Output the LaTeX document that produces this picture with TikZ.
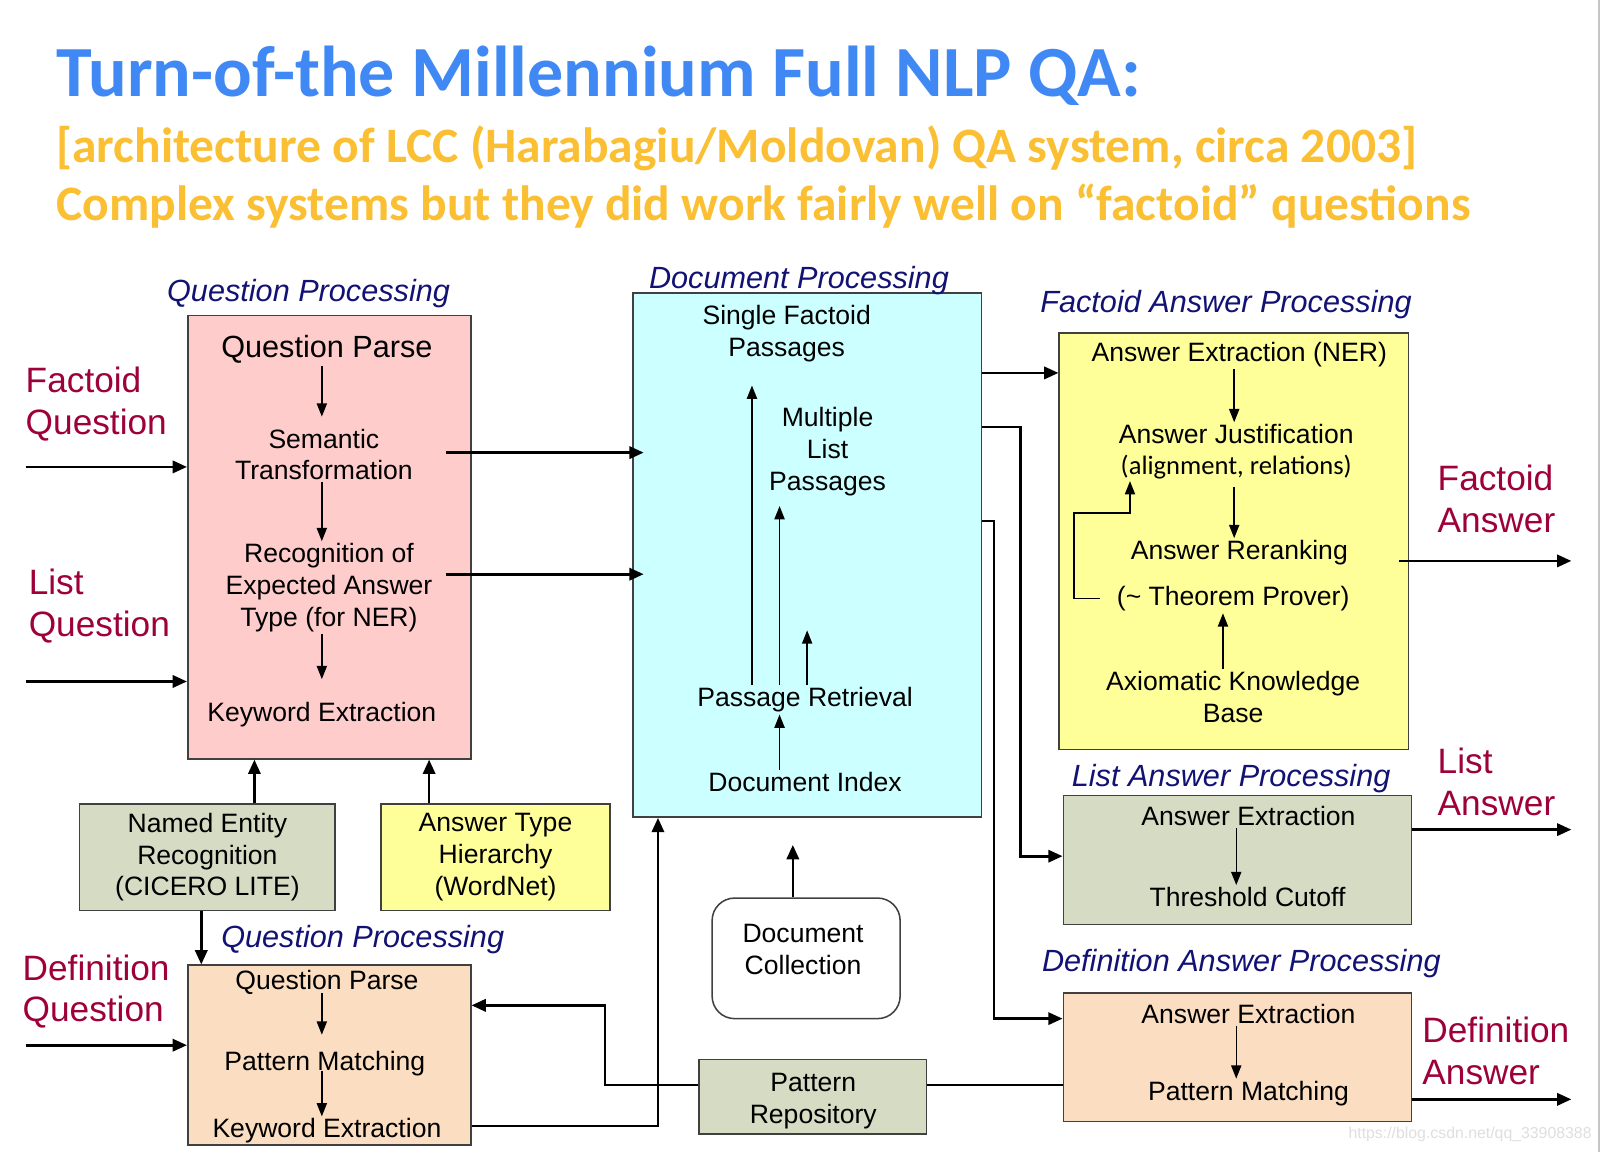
\documentclass[tikz,border=0pt]{standalone}
\usepackage{fontspec}
\setmainfont{Liberation Sans}
\newfontfamily\slidefont{Carlito}
\usetikzlibrary{arrows.meta,positioning}

\definecolor{titleblue}{HTML}{4089F5}
\definecolor{subgold}{HTML}{FBBF33}
\definecolor{labred}{HTML}{9E0039}
\definecolor{secnavy}{HTML}{121275}
\definecolor{qpfill}{HTML}{FFCCCC}
\definecolor{dpfill}{HTML}{CCFFFF}
\definecolor{fafill}{HTML}{FFFF99}
\definecolor{grfill}{HTML}{D6DBC3}
\definecolor{pefill}{HTML}{FBDDC1}

\tikzset{
  box/.style={draw=black!75, line width=1.5pt, inner sep=0pt},
  txt/.style={font=\fontsize{26}{31}\selectfont, align=center, inner sep=2pt},
  bigtxt/.style={font=\fontsize{30}{36}\selectfont, align=center, inner sep=2pt},
  sect/.style={font=\fontsize{30}{36}\selectfont\itshape, text=secnavy, inner sep=0pt},
  qlab/.style={font=\fontsize{34.5}{41}\selectfont, text=labred, align=left, inner sep=0pt, anchor=west},
  subtitle/.style={font=\slidefont\bfseries\fontsize{48.5}{58}\selectfont, text=subgold, anchor=base west, inner sep=0pt},
  conn/.style={line width=2.6pt, -{Triangle[length=14pt,width=12pt]}},
  link/.style={line width=2.6pt},
  inarr/.style={line width=1.4pt, -{Triangle[length=13pt,width=10pt]}},
}

\begin{document}
\begin{tikzpicture}[x=1pt,y=-1pt]
\fill[white] (0,0) rectangle (1568,1128);
\useasboundingbox (0,0) rectangle (1568,1128);
\draw[gray!45, line width=1.5pt] (1565,0) -- (1565,1128);

% title lines
\node[anchor=base west, inner sep=0pt, font=\slidefont\bfseries\fontsize{70.5}{84}\selectfont, text=titleblue] (title) at (55,94) {Turn-of-the Millennium Full NLP QA:};
\node[subtitle] (sub1) at (55,159) {[architecture of LCC (Harabagiu/Moldovan) QA system, circa 2003]};
\node[subtitle] (sub2) at (55,216) {Complex systems but they did work fairly well on “factoid” questions};

% boxes
\node[box, fill=qpfill, anchor=north west, minimum width=277pt, minimum height=434pt] (qp) at (183,308) {};
\node[box, fill=dpfill, anchor=north west, minimum width=341pt, minimum height=513pt] (dp) at (619,286) {};
\node[box, fill=fafill, anchor=north west, minimum width=342pt, minimum height=408pt] (fa) at (1036,325) {};
\node[box, fill=grfill, anchor=north west, minimum width=341pt, minimum height=126pt] (la) at (1040,778) {};
\node[box, fill=pefill, anchor=north west, minimum width=341pt, minimum height=126pt] (da) at (1040,971) {};
\node[box, fill=pefill, anchor=north west, minimum width=277pt, minimum height=176pt] (dqp) at (183,944) {};
\node[box, txt, fill=grfill, minimum width=250pt, minimum height=104pt] (ner) at (203,839) {Named Entity\\Recognition\\(CICERO LITE)};
\node[box, txt, fill=fafill, minimum width=224pt, minimum height=104pt] (aty) at (485,839) {Answer Type\\Hierarchy\\(WordNet)};
\node[box, fill=white, rounded corners=22pt, minimum width=184pt, minimum height=118pt] (dcol) at (789,938) {};
\node[txt] (dctxt) at (786,929) {Document\\Collection};
\node[box, fill=grfill, minimum width=223pt, minimum height=73pt] (prep) at (795.5,1073.5) {};
\node[txt] (prtxt) at (796,1078) {Pattern\\Repository};

% section labels
\node[sect] (qplab) at (302,287) {Question Processing};
\node[sect] (dplab) at (782,275) {Document Processing};
\node[sect] (falab) at (1200,298) {Factoid Answer Processing};
\node[sect] (dqplab) at (355,920) {Question Processing};
\node[sect] (lalab) at (1205,762) {List Answer Processing};
\node[sect] (dalab) at (1215,943) {Definition Answer Processing};

% question and answer labels
\node[qlab] (fq) at (25,395.5) {Factoid\\Question};
\node[qlab] (lq) at (28,593.5) {List\\Question};
\node[qlab] (dq) at (22,970.5) {Definition\\Question};
\node[qlab] (fans) at (1407,488) {Factoid\\Answer};
\node[qlab] (lans) at (1407,765.5) {List\\Answer};
\node[qlab] (dans) at (1392,1028.5) {Definition\\Answer};

% question processing steps
\node[bigtxt] (qparse) at (320,342) {Question Parse};
\node[txt] (semtr) at (317,445) {Semantic\\Transformation};
\node[txt] (recog) at (322,575) {Recognition of\\Expected Answer\\Type (for NER)};
\node[txt] (kwe) at (315,699) {Keyword Extraction};
\draw[inarr, shorten >=10pt] (qparse.south -| 315,0) -- (semtr.north -| 315,0);
\draw[inarr] (semtr.south -| 315,0) -- (recog.north -| 315,0);
\draw[inarr, shorten >=20pt] (recog.south -| 315,0) -- (kwe.north -| 315,0);

% document processing steps
\node[txt] (sfp) at (770,326.5) {Single Factoid\\Passages};
\node[txt] (mlp) at (810,442) {Multiple\\List\\Passages};
\node[txt] (pret) at (788,685) {Passage Retrieval};
\node[txt] (dix) at (788,765) {Document Index};
\coordinate (pr3) at (790,617);
\draw[inarr, shorten >=21pt] (pret.north -| 736,0) -- (sfp.south -| 736,0);
\draw[inarr, shorten >=8pt] (pret.north -| 763,0) -- (mlp.south -| 763,0);
\draw[inarr] (pret.north -| pr3) -- (pr3);
\draw[inarr] (dix.north -| 763,0) -- (pret.south -| 763,0);

% factoid answer steps
\node[txt] (aen) at (1213,347) {Answer Extraction (NER)};
\node[txt] (ajus) at (1210,425) {Answer Justification};
\node[txt, font=\slidefont\fontsize{26}{31}\selectfont] (ajr) at (1210,457) {(alignment, relations)};
\node[txt] (arr) at (1213,541) {Answer Reranking};
\node[txt] (tpr) at (1207,586) {(\textasciitilde{} Theorem Prover)};
\node[txt] (akb) at (1207,682) {Axiomatic Knowledge\\Base};
\draw[inarr] (aen.south -| 1208,0) -- (ajus.north -| 1208,0);
\draw[inarr, shorten <=6pt] (ajr.south -| 1208,0) -- (arr.north -| 1208,0);
\draw[inarr] (akb.north -| 1197,0) -- (tpr.south -| 1197,0);
\draw[inarr] ([xshift=-14pt]tpr.west) -- ++(-26,0) |- (1106,502) -- (ajr.south -| 1106,0);

% list and definition answer steps
\node[txt] (lae) at (1222,799) {Answer Extraction};
\node[txt] (ltc) at (1221,878) {Threshold Cutoff};
\draw[inarr] (lae.south -| 1210,0) -- (ltc.north -| 1210,0);
\node[txt] (dae) at (1222,992) {Answer Extraction};
\node[txt] (dpm) at (1222,1070) {Pattern Matching};
\draw[inarr] (dae.south -| 1210,0) -- (dpm.north -| 1210,0);

% definition question steps
\node[txt] (dqpp) at (320,962) {Question Parse};
\node[txt] (dqpm) at (318,1041) {Pattern Matching};
\node[txt] (dqpk) at (320,1107) {Keyword Extraction};
\draw[inarr, shorten <=-4pt, shorten >=14pt] (dqpp.south -| 315,0) -- (dqpm.north -| 315,0);
\draw[inarr, shorten <=-7pt] (dqpm.south -| 315,0) -- (dqpk.north -| 315,0);

% inputs and outputs
\coordinate (fqin) at (25,457);
\coordinate (lqin) at (25,667);
\coordinate (dqin) at (25,1023);
\coordinate (faout) at (1538,549);
\coordinate (laout) at (1538,812);
\coordinate (daout) at (1538,1076);
\draw[conn] (fqin) -- (qp.west |- fqin);
\draw[conn] (lqin) -- (qp.west |- lqin);
\draw[conn] (dqin) -- (dqp.west |- dqin);
\draw[conn] ([xshift=-10pt]fa.east |- faout) -- (faout);
\draw[conn] (la.east |- laout) -- (laout);
\draw[conn] (da.east |- daout) -- (daout);

% connectors between boxes
\draw[conn] ([xshift=-25pt]qp.east |- 0,443) -- ([xshift=11pt]dp.west |- 0,443);
\draw[conn] ([xshift=-25pt]qp.east |- 0,562) -- ([xshift=11pt]dp.west |- 0,562);
\draw[conn] (ner.north -| 249,0) -- (qp.south -| 249,0);
\draw[conn] (aty.north -| 420,0) -- (qp.south -| 420,0);
\draw[conn] (ner.south -| 197,0) -- (dqp.north -| 197,0);
\draw[conn] (prep.west |- 0,1062) -- (592,1062) |- (dqp.east |- 0,984);
\draw[link] (prep.east |- 0,1062) -- (da.west |- 0,1062);
\draw[conn] (dqp.east |- 0,1102) -| ([xshift=25pt]dp.south west);
\coordinate (dcup) at (776,827);
\draw[conn] (dcol.north -| dcup) -- (dcup);
\draw[conn] (dp.east |- 0,365) -- (fa.west |- 0,365);
\draw[conn] (dp.east |- 0,418) -- (999,418) |- (la.west |- 0,838);
\draw[conn] (dp.east |- 0,510) -- (973,510) |- (da.west |- 0,997);

% watermark
\node[anchor=east, inner sep=0pt, text=gray!25, font=\fontsize{15.5}{18}\selectfont] (wm) at (1558,1110) {https://blog.csdn.net/qq\_33908388};
\end{tikzpicture}
\end{document}
